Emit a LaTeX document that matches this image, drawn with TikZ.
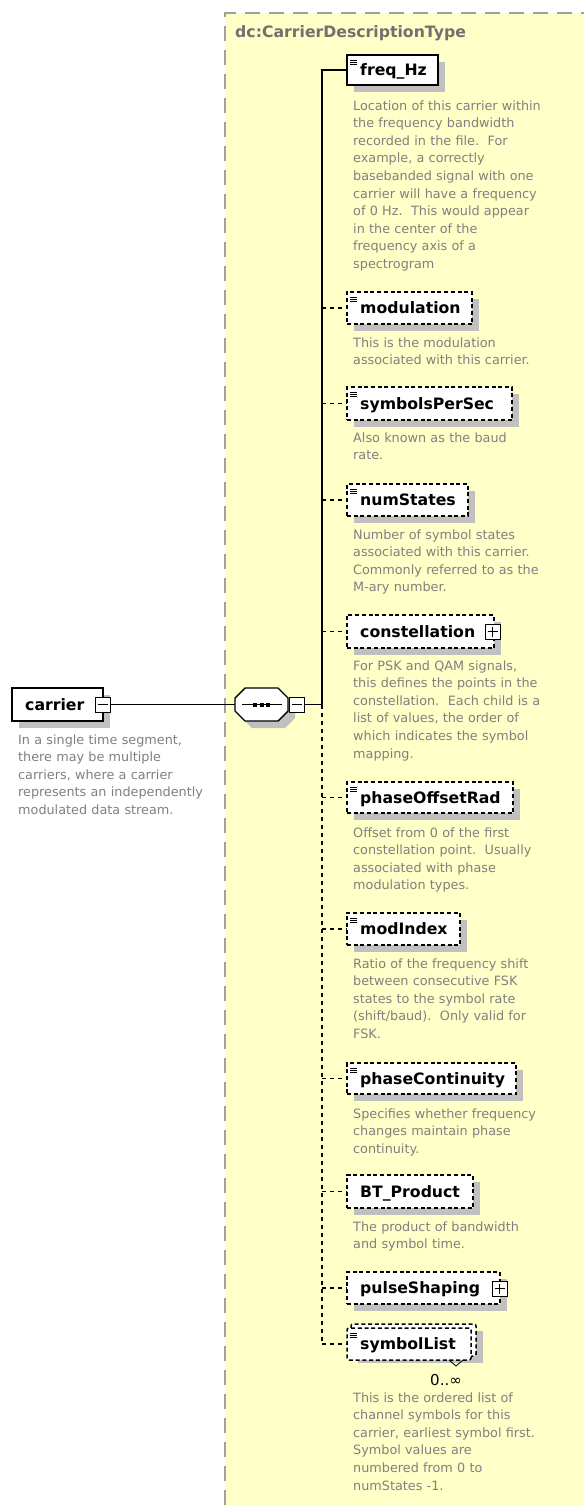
\documentclass[tikz,border=0pt]{standalone}
\usepackage{fontspec}
\setmainfont{DejaVu Sans}
\usetikzlibrary{calc}
\definecolor{bgyellow}{RGB}{255,255,200}
\definecolor{framegray}{RGB}{160,160,160}
\definecolor{shadowgray}{RGB}{192,192,192}
\definecolor{descgray}{RGB}{128,128,128}
\definecolor{titlegray}{RGB}{112,112,112}
\newcommand\elembox[6]{%
  \pgfmathsetmacro\ew{#4-#2}\pgfmathsetmacro\eh{#5-#3}%
  \fill[shadowgray] ({#2+7},{#3+7}) rectangle ({#4+7},{#5+7});
  \node[#6, minimum width=\ew pt, minimum height=\eh pt] (#1) at (#2,#3) {};
}
\newcommand\elemlabel[3]{\node[lbl] (#1) at (360,{#2+5.6}) {#3};}
\newcommand\docicon[1]{\draw[icon] (#1.north west) ++(3,5) -- ++(7,0) ++(-7,2.2) -- ++(7,0) ++(-7,2.2) -- ++(7,0);}
\begin{document}
\begin{tikzpicture}[x=1pt,y=-1pt,
  box/.style={draw=black, line width=1.5pt, fill=white, anchor=north west, inner sep=0pt, outer sep=0pt},
  optbox/.style={box, dash pattern=on 4pt off 2.7pt},
  pm/.style={draw=black, line width=1pt, fill=white, anchor=north west, inner sep=0pt, outer sep=0pt, minimum size=15pt},
  lbl/.style={font=\fontsize{15.7}{18}\selectfont\bfseries, anchor=base west, inner sep=0pt},
  desc/.style={font=\fontsize{12.8}{17.6}\selectfont, text=descgray, align=left, anchor=base west, inner sep=0pt, text width=230pt},
  conn/.style={line width=1.5pt, draw=black},
  optconn/.style={line width=1.5pt, draw=black, dash pattern=on 4pt off 4pt},
  icon/.style={line width=0.7pt, draw=black}]
\useasboundingbox (0,0) rectangle (584,1505);
% background region
\fill[bgyellow] (225,13) rectangle (584,1505);
\draw[framegray, line width=2pt, dash pattern=on 15pt off 9pt] (225,1505) -- (225,13) -- (584,13);
\node[font=\fontsize{15.7}{18}\selectfont\bfseries, text=titlegray, anchor=base west, inner sep=0pt] (title) at (235,37) {dc:CarrierDescriptionType};

% carrier element
\elembox{carrier}{12}{688}{103}{721}{box}
\node[lbl] (carrierlbl) at (25,710.5) {carrier};
\node[pm] (carrierminus) at (95,697) {};
\draw[line width=1pt] ($(carrierminus.center)+(-5,0)$) -- ($(carrierminus.center)+(5,0)$);
\node[desc] (carrierdesc) at (18,744) {In a single time segment,\\there may be multiple\\carriers, where a carrier\\represents an independently\\modulated data stream.};

% sequence compositor
\fill[shadowgray] (242,705) -- (252,695) -- (285,695) -- (295,705) -- (295,718) -- (285,728) -- (252,728) -- (242,718) -- cycle;
\node[minimum width=53pt, minimum height=33pt, anchor=north west, inner sep=0pt, outer sep=0pt] (seq) at (235,688) {};
\draw[line width=1.4pt, fill=white] (235,698) -- (245,688) -- (278,688) -- (288,698) -- (288,711) -- (278,721) -- (245,721) -- (235,711) -- cycle;
\draw[line width=1.4pt] (242,704.5) -- (282,704.5);
\foreach \sx in {253,259.5,266} \fill (\sx,702.5) rectangle ++(4,4);
\node[pm] (seqminus) at (289,697) {};
\draw[line width=1pt] ($(seqminus.center)+(-5,0)$) -- ($(seqminus.center)+(5,0)$);
\draw[conn] (carrierminus.east) -- (seq.west);

% children
\elembox{freq}{347}{55}{438}{85}{box}
\elembox{modulation}{347}{292}{472}{324}{optbox}
\elembox{symbolsPerSec}{347}{387}{512}{420}{optbox}
\elembox{numStates}{347}{484}{468}{516}{optbox}
\elembox{constellation}{347}{615}{494}{648}{optbox}
\elembox{phaseOffsetRad}{347}{782}{513}{813}{optbox}
\elembox{modIndex}{347}{913}{460}{945}{optbox}
\elembox{phaseContinuity}{347}{1063}{516}{1094}{optbox}
\elembox{BTProduct}{347}{1175}{473}{1208}{optbox}
\elembox{pulseShaping}{347}{1272}{500}{1304}{optbox}
% symbolList stack
\fill[shadowgray] (358,1331) rectangle (483,1363);
\draw[line width=1.5pt, fill=white, dash pattern=on 4pt off 2.7pt, rounded corners=2pt] (351,1324) rectangle (476,1356);
\node[optbox, rounded corners=2pt, minimum width=124pt, minimum height=32pt] (symbolList) at (347,1328) {};
\draw[line width=0.8pt] (449,1360) -- (456,1366) -- (463,1360);
\node[font=\fontsize{15}{17}\selectfont, anchor=center, inner sep=0pt] (occ) at (446,1380) {0..∞};

\elemlabel{freqlbl}{70}{freq\_Hz}
\elemlabel{modulationlbl}{308}{modulation}
\elemlabel{symbolsPerSeclbl}{403.5}{symbolsPerSec}
\elemlabel{numStateslbl}{500}{numStates}
\elemlabel{constellationlbl}{631.5}{constellation}
\elemlabel{phaseOffsetRadlbl}{797.5}{phaseOffsetRad}
\elemlabel{modIndexlbl}{929}{modIndex}
\elemlabel{phaseContinuitylbl}{1078.5}{phaseContinuity}
\elemlabel{BTProductlbl}{1191.5}{BT\_Product}
\elemlabel{pulseShapinglbl}{1288}{pulseShaping}
\elemlabel{symbolListlbl}{1344}{symbolList}

\foreach \n in {freq,modulation,symbolsPerSec,numStates,phaseOffsetRad,modIndex,phaseContinuity,symbolList} {\docicon{\n}}

\node[pm] (constplus) at (485,624) {};
\draw[line width=1pt] ($(constplus.center)+(-5,0)$) -- ($(constplus.center)+(5,0)$) ($(constplus.center)+(0,-5)$) -- ($(constplus.center)+(0,5)$);
\node[pm] (pulseplus) at (492,1281) {};
\draw[line width=1pt] ($(pulseplus.center)+(-5,0)$) -- ($(pulseplus.center)+(5,0)$) ($(pulseplus.center)+(0,-5)$) -- ($(pulseplus.center)+(0,5)$);

% connectors
\coordinate (spine) at (322,704.5);
\draw[conn] (seqminus.east) -- (spine);
\draw[conn] (spine) -- (spine |- freq.west) -- (freq.west);
\draw[optconn] (spine) -- (spine |- symbolList.west);
\foreach \n in {modulation,symbolsPerSec,numStates,constellation,phaseOffsetRad,modIndex,phaseContinuity,BTProduct,pulseShaping,symbolList} {\draw[optconn] (spine |- \n.west) -- (\n.west);}

% descriptions
\node[desc] (freqdesc) at (353,110) {Location of this carrier within\\the frequency bandwidth\\recorded in the file.\ \ For\\example, a correctly\\basebanded signal with one\\carrier will have a frequency\\of 0 Hz.\ \ This would appear\\in the center of the\\frequency axis of a\\spectrogram};
\node[desc] (modulationdesc) at (353,347) {This is the modulation\\associated with this carrier.};
\node[desc] (symbolsPerSecdesc) at (353,442) {Also known as the baud\\rate.};
\node[desc] (numStatesdesc) at (353,539) {Number of symbol states\\associated with this carrier.\\Commonly referred to as the\\M-ary number.};
\node[desc] (constellationdesc) at (353,670) {For PSK and QAM signals,\\this defines the points in the\\constellation.\ \ Each child is a\\list of values, the order of\\which indicates the symbol\\mapping.};
\node[desc] (phaseOffsetRaddesc) at (353,837) {Offset from 0 of the first\\constellation point.\ \ Usually\\associated with phase\\modulation types.};
\node[desc] (modIndexdesc) at (353,968) {Ratio of the frequency shift\\between consecutive FSK\\states to the symbol rate\\(shift/baud).\ \ Only valid for\\FSK.};
\node[desc] (phaseContinuitydesc) at (353,1118) {Specifies whether frequency\\changes maintain phase\\continuity.};
\node[desc] (BTProductdesc) at (353,1231) {The product of bandwidth\\and symbol time.};
\node[desc] (symbolListdesc) at (353,1402) {This is the ordered list of\\channel symbols for this\\carrier, earliest symbol first.\\Symbol values are\\numbered from 0 to\\numStates -1.};
\end{tikzpicture}
\end{document}
